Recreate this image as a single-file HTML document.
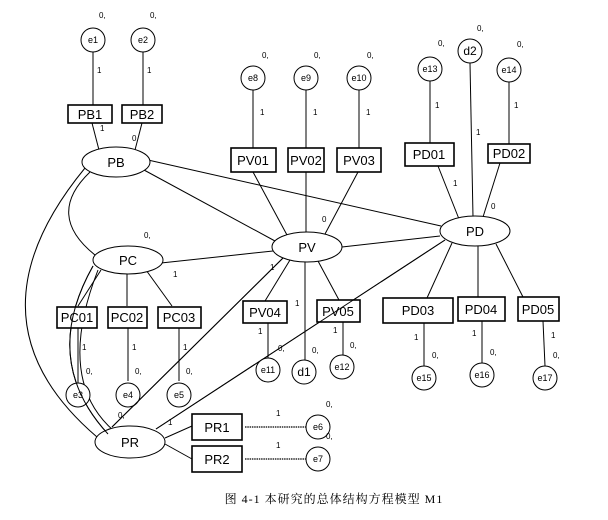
<!DOCTYPE html>
<html><head><meta charset="utf-8"><style>
html,body{margin:0;padding:0;background:#fff;width:608px;height:520px;overflow:hidden}
svg text{font-family:"Liberation Sans",sans-serif;fill:#000}
</style></head><body>
<svg width="608" height="520" viewBox="0 0 608 520" xmlns="http://www.w3.org/2000/svg">
<g fill="none" stroke="#000" stroke-width="1">
<line x1="148" y1="160" x2="441" y2="226"/>
<line x1="144" y1="170" x2="275" y2="241"/>
<line x1="161" y1="263" x2="273" y2="251"/>
<line x1="342" y1="247" x2="440" y2="236"/>
<line x1="112" y1="427" x2="283" y2="258"/>
<line x1="156" y1="429" x2="445" y2="240"/>
<path d="M85,168 Q-40,320 97,437"/>
<path d="M90,172 Q45,215 95,255"/>
<path d="M93,266 Q40,360 108,434"/>
<path d="M98,270 Q55,380 114,431"/>
<line x1="101" y1="270" x2="78" y2="306"/>
<line x1="93" y1="52" x2="93" y2="105"/>
<line x1="143" y1="52" x2="143" y2="105"/>
<line x1="92" y1="123" x2="99" y2="150"/>
<line x1="142" y1="123" x2="135" y2="150"/>
<line x1="253" y1="90" x2="253" y2="148"/>
<line x1="306" y1="90" x2="306" y2="148"/>
<line x1="359" y1="90" x2="359" y2="148"/>
<line x1="253" y1="172" x2="287" y2="235"/>
<line x1="306" y1="172" x2="306" y2="232"/>
<line x1="358" y1="172" x2="325" y2="234"/>
<line x1="290" y1="260" x2="265" y2="301"/>
<line x1="305" y1="262" x2="305" y2="360"/>
<line x1="318" y1="261" x2="339" y2="300"/>
<line x1="268" y1="323" x2="268" y2="358"/>
<line x1="343" y1="322" x2="343" y2="355"/>
<line x1="430" y1="81" x2="430" y2="143"/>
<line x1="470" y1="63" x2="473" y2="217"/>
<line x1="509" y1="82" x2="509" y2="144"/>
<line x1="438" y1="166" x2="459" y2="219"/>
<line x1="500" y1="163" x2="483" y2="217"/>
<line x1="452" y1="243" x2="427" y2="298"/>
<line x1="478" y1="246" x2="478" y2="297"/>
<line x1="496" y1="244" x2="523" y2="297"/>
<line x1="424" y1="323" x2="424" y2="366"/>
<line x1="482" y1="321" x2="482" y2="363"/>
<line x1="543" y1="321" x2="545" y2="366"/>
<line x1="127" y1="274" x2="127" y2="306"/>
<line x1="146" y1="270" x2="172" y2="306"/>
<line x1="78" y1="328" x2="78" y2="383"/>
<line x1="128" y1="328" x2="128" y2="381"/>
<line x1="179" y1="328" x2="179" y2="381"/>
<line x1="165" y1="438" x2="192" y2="426"/>
<line x1="165" y1="444" x2="192" y2="459"/>
<line x1="245" y1="427" x2="307" y2="427" stroke-dasharray="1.5,0.8" stroke-width="1.3"/>
<line x1="245" y1="459" x2="307" y2="459" stroke-dasharray="1.5,0.8" stroke-width="1.3"/>
</g>
<g fill="#fff" stroke="#000" stroke-width="1">
<ellipse cx="116" cy="162" rx="34" ry="15"/>
<ellipse cx="307" cy="247" rx="35" ry="15"/>
<ellipse cx="475" cy="231" rx="35" ry="15"/>
<ellipse cx="128" cy="260" rx="35" ry="14"/>
<ellipse cx="130" cy="442" rx="35" ry="16"/>
<circle cx="93" cy="40" r="12"/><circle cx="143" cy="40" r="12"/>
<circle cx="253" cy="78" r="12"/><circle cx="306" cy="78" r="12"/><circle cx="359" cy="78" r="12"/>
<circle cx="430" cy="69" r="12"/><circle cx="470" cy="51" r="12"/><circle cx="509" cy="70" r="12"/>
<circle cx="268" cy="370" r="12"/><circle cx="304" cy="372" r="12"/><circle cx="342" cy="367" r="12"/>
<circle cx="424" cy="378" r="12"/><circle cx="482" cy="375" r="12"/><circle cx="545" cy="378" r="12"/>
<circle cx="78" cy="395" r="12"/><circle cx="128" cy="395" r="12"/><circle cx="179" cy="395" r="12"/>
<circle cx="318" cy="427" r="12"/><circle cx="318" cy="459" r="12"/>
</g>
<g fill="#fff" stroke="#000" stroke-width="1.6">
<rect x="68" y="105" width="44" height="18"/><rect x="122" y="105" width="40" height="18"/>
<rect x="231" y="148" width="45" height="24"/><rect x="288" y="148" width="36" height="24"/><rect x="337" y="148" width="44" height="24"/>
<rect x="405" y="143" width="49" height="23"/><rect x="488" y="144" width="42" height="19"/>
<rect x="57" y="307" width="40" height="21"/><rect x="108" y="307" width="39" height="21"/><rect x="158" y="307" width="43" height="21"/>
<rect x="243" y="301" width="44" height="22"/><rect x="317" y="300" width="43" height="22"/>
<rect x="383" y="298" width="70" height="25"/><rect x="458" y="297" width="47" height="24"/><rect x="518" y="297" width="41" height="24"/>
<rect x="192" y="414" width="50" height="26"/><rect x="192" y="446" width="50" height="26"/>
</g>
<g fill="none" stroke="#000" stroke-width="1">
<path d="M93,266 Q40,360 108,434"/>
<line x1="112" y1="427" x2="283" y2="258"/>
<line x1="156" y1="429" x2="445" y2="240"/>
</g>
<g font-size="13" text-anchor="middle">
<text x="116" y="167">PB</text><text x="307" y="252">PV</text><text x="475" y="236">PD</text>
<text x="128" y="265">PC</text><text x="130" y="447">PR</text>
<text x="90" y="119">PB1</text><text x="142" y="119">PB2</text>
<text x="253" y="165">PV01</text><text x="306" y="165">PV02</text><text x="359" y="165">PV03</text>
<text x="429" y="159">PD01</text><text x="509" y="158">PD02</text>
<text x="77" y="322">PC01</text><text x="127" y="322">PC02</text><text x="179" y="322">PC03</text>
<text x="265" y="317">PV04</text><text x="338" y="316">PV05</text>
<text x="418" y="315">PD03</text><text x="481" y="314">PD04</text><text x="538" y="314">PD05</text>
<text x="217" y="432">PR1</text><text x="217" y="464">PR2</text>
</g>
<g font-size="9" text-anchor="middle">
<text x="93" y="43">e1</text><text x="143" y="43">e2</text>
<text x="253" y="81">e8</text><text x="306" y="81">e9</text><text x="359" y="81">e10</text>
<text x="430" y="72">e13</text><text x="509" y="73">e14</text>
<text x="268" y="373">e11</text><text x="342" y="370">e12</text>
<text x="424" y="381">e15</text><text x="482" y="378">e16</text><text x="545" y="381">e17</text>
<text x="78" y="398">e3</text><text x="128" y="398">e4</text><text x="179" y="398">e5</text>
<text x="318" y="430">e6</text><text x="318" y="462">e7</text>
</g>
<g font-size="12" text-anchor="middle"><text x="470" y="55">d2</text><text x="304" y="376">d1</text></g>
<g font-size="8">
<text x="99" y="18">0,</text><text x="150" y="18">0,</text>
<text x="262" y="58">0,</text><text x="314" y="58">0,</text><text x="367" y="58">0,</text>
<text x="438" y="46">0,</text><text x="477" y="31">0,</text><text x="517" y="47">0,</text>
<text x="144" y="238">0,</text>
<text x="97" y="73">1</text><text x="147" y="73">1</text>
<text x="260" y="115">1</text><text x="313" y="115">1</text><text x="366" y="115">1</text>
<text x="435" y="108">1</text><text x="476" y="135">1</text><text x="514" y="108">1</text>
<text x="100" y="131">1</text><text x="132" y="141">0</text>
<text x="453" y="186">1</text><text x="491" y="209">0</text><text x="322" y="222">0</text>
<text x="173" y="277">1</text><text x="270" y="270">1</text>
<text x="82" y="350">1</text><text x="132" y="350">1</text><text x="183" y="350">1</text>
<text x="86" y="374">0,</text><text x="135" y="374">0,</text><text x="186" y="374">0,</text>
<text x="258" y="334">1</text><text x="295" y="306">1</text><text x="333" y="333">1</text>
<text x="278" y="351">0,</text><text x="312" y="353">0,</text><text x="350" y="348">0,</text>
<text x="414" y="340">1</text><text x="472" y="336">1</text><text x="551" y="338">1</text>
<text x="432" y="358">0,</text><text x="490" y="355">0,</text><text x="553" y="358">0,</text>
<text x="118" y="418">0,</text><text x="168" y="425">1</text>
<text x="276" y="416">1</text><text x="276" y="448">1</text>
<text x="326" y="407">0,</text><text x="326" y="439">0,</text>
</g>
<text x="334" y="503" font-size="12" text-anchor="middle" letter-spacing="1" style="font-family:'Liberation Serif','Noto Serif CJK SC',serif">图 4-1  本研究的总体结构方程模型 M1</text>
</svg>
</body></html>
